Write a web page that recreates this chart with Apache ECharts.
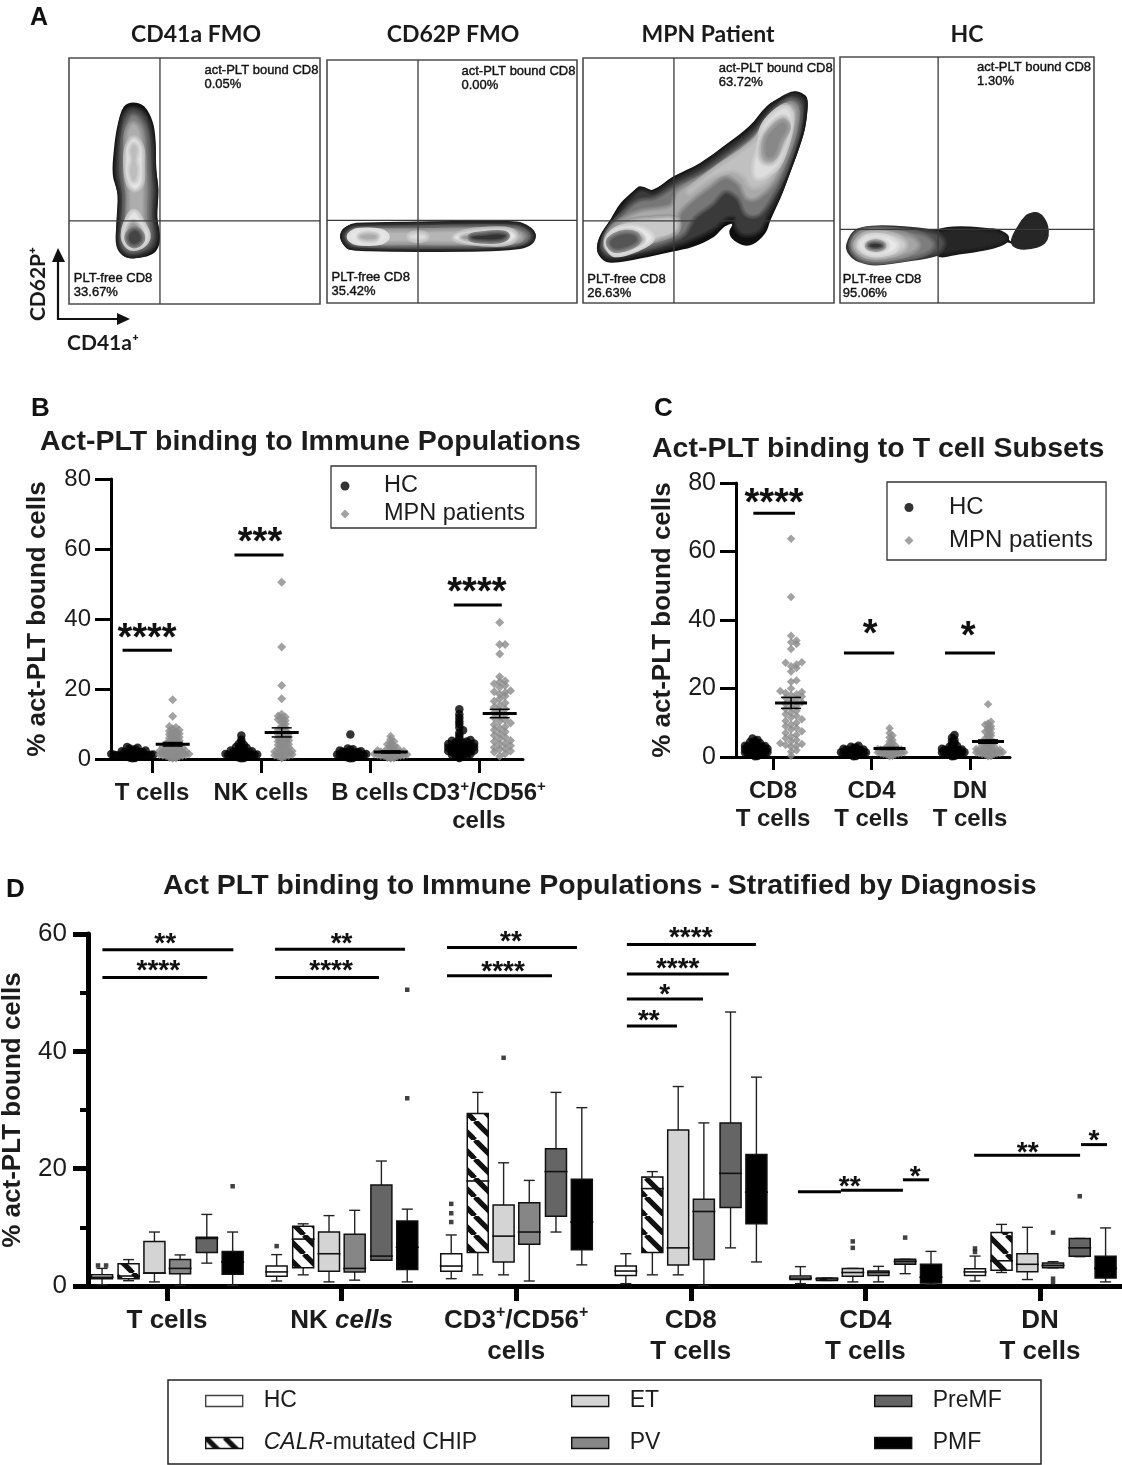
<!DOCTYPE html>
<html><head><meta charset="utf-8">
<style>html,body{margin:0;padding:0;background:#fff}#c{width:1122px;height:1465px;filter:blur(0.35px)}</style>
<script src="https://cdn.jsdelivr.net/npm/echarts@6/dist/echarts.min.js"></script>
</head><body><div id="c"></div>
<script>
/* ---------- Panel A: contour levels (scan units of each plot) ---------- */
const plotTitles = ['CD41a FMO','CD62P FMO','MPN Patient','HC'];
const upperTexts = ['act-PLT bound CD8\n0.05%','act-PLT bound CD8\n0.00%','act-PLT bound CD8\n63.72%','act-PLT bound CD8\n1.30%'];
const lowerTexts = ['PLT-free CD8\n33.67%','PLT-free CD8\n35.42%','PLT-free CD8\n26.63%','PLT-free CD8\n95.06%'];
const upperSpots = [[552,190],[1247,195],[423,187],[1157,182]];
const lowerSpots = [[200,815],[897,812],[50,818],[778,818]];
const xRanges = [[187,863],[885,1558],[38,750],[770,1487]];
const yRanges = [[175,912],[182,908],[177,908],[172,908]];
const gates = [[432,663],[1130,661],[296,663],[1047,688]];

const contoursA = [
 [[360,308],[390,320],[412,365],[420,420],[422,510],[428,570],[425,650],[432,720],[415,760],[360,775],[330,765],[315,730],[315,660],[318,585],[305,525],[308,450],[318,375],[335,320]],
 [[360,330],[385,345],[400,380],[408,440],[410,510],[415,570],[412,650],[418,715],[405,745],[360,762],[335,752],[325,725],[328,660],[330,585],[320,525],[322,450],[330,385],[340,345]],
 [[360,350],[378,365],[390,395],[395,450],[398,520],[400,575],[398,650],[403,710],[392,735],[360,748],[342,740],[335,715],[340,660],[342,585],[335,525],[335,450],[340,395],[348,365]],
 [[360,375],[375,395],[382,450],[385,520],[385,580],[385,660],[390,710],[380,728],[360,735],[348,728],[345,705],[350,660],[352,585],[345,525],[345,450],[347,400]],
 [[362,420],[378,445],[380,500],[378,550],[365,565],[352,550],[345,500],[348,445]],
 [[362,435],[370,450],[365,480],[370,510],[365,540],[358,540],[352,510],[358,480],[354,450]],
 [[362,640],[380,670],[395,705],[385,730],[360,740],[345,730],[338,705],[345,670]],
 [[362,670],[380,695],[382,720],[362,733],[348,722],[345,700],[350,680]],
 [[364,692],[378,705],[378,722],[362,732],[350,722],[350,705]]
];
const greysA = [17,74,128,173,230,189,230,153,68];

const contoursB = [
 [[920,708],[930,685],[960,672],[1130,668],[1300,665],[1400,668],[1435,685],[1447,708],[1435,730],[1395,745],[1300,752],[1130,752],[1000,750],[945,748],[928,730]],
 [[933,708],[942,692],[965,682],[1130,678],[1300,676],[1395,678],[1425,692],[1435,708],[1425,725],[1392,735],[1300,741],[1130,742],[1000,740],[950,736],[938,725]],
 [[945,708],[953,698],[970,692],[1130,689],[1300,686],[1390,688],[1412,697],[1422,708],[1412,720],[1388,727],[1300,731],[1130,732],[1000,730],[958,725],[950,718]],
 [[955,708],[965,700],[1000,698],[1130,698],[1300,695],[1385,697],[1400,705],[1405,710],[1400,716],[1385,720],[1300,723],[1130,722],[1000,722],[965,718]],
 [[1110,710],[1130,704],[1150,710],[1130,716]],
 [[950,710],[965,698],[1000,696],[1030,700],[1042,710],[1030,720],[1000,724],[965,722]],
 [[975,710],[990,704],[1010,705],[1018,710],[1010,716],[990,716]],
 [[1230,712],[1270,698],[1340,692],[1375,695],[1390,708],[1375,722],[1340,727],[1270,722]],
 [[1250,712],[1290,704],[1345,700],[1368,708],[1345,720],[1290,720]],
 [[1275,712],[1300,708],[1345,703],[1365,708],[1345,717],[1300,717]]
];
const greysB = [17,74,136,181,221,230,170,230,150,51];

const contoursC = [
 [[640,277],[670,290],[675,315],[668,385],[650,450],[625,520],[600,590],[570,660],[555,700],[520,733],[490,735],[460,715],[453,695],[462,672],[440,680],[410,710],[350,740],[290,755],[200,775],[120,788],[95,780],[78,750],[85,710],[115,660],[145,610],[185,570],[200,560],[235,570],[295,530],[370,490],[450,430],[510,380],[560,320],[600,295]],
 [[635,290],[660,303],[663,320],[655,385],[636,450],[612,520],[588,585],[560,640],[535,690],[495,700],[475,680],[470,650],[445,650],[410,680],[350,712],[290,735],[200,758],[120,772],[100,765],[90,745],[100,710],[128,665],[155,625],[190,585],[205,575],[238,585],[300,545],[375,505],[455,445],[520,392],[570,330],[605,305]],
 [[630,305],[650,320],[645,390],[625,460],[600,530],[570,590],[535,640],[505,640],[480,590],[440,570],[400,610],[350,650],[320,700],[280,720],[200,745],[130,760],[105,750],[100,730],[115,690],[150,650],[195,610],[245,600],[310,560],[385,520],[465,460],[525,410],[575,345],[605,318]],
 [[625,318],[640,335],[632,400],[610,470],[575,545],[530,590],[505,590],[485,550],[440,525],[395,555],[340,600],[305,640],[300,690],[250,712],[180,732],[125,748],[108,735],[115,700],[150,665],[200,640],[290,622],[310,580],[390,530],[470,470],[530,420],[580,350]],
 [[615,325],[628,345],[618,410],[595,480],[560,540],[525,560],[510,550],[500,530],[460,510],[400,530],[340,575],[420,510],[490,460],[535,420],[570,360],[595,335]],
 [[612,330],[625,350],[615,420],[590,490],[555,525],[530,530],[528,490],[542,440],[552,385],[580,348]],
 [[605,358],[620,375],[605,430],[575,485],[548,480],[545,430],[570,385]],
 [[605,370],[615,385],[595,425],[578,468],[560,470],[558,425],[575,395]],
 [[108,735],[125,700],[165,670],[230,660],[300,660],[300,690],[250,712],[180,732],[125,748]],
 [[110,730],[125,700],[160,685],[205,690],[230,715],[190,742],[130,758]],
 [[118,730],[130,708],[160,697],[190,702],[205,720],[175,738],[130,750]],
 [[115,728],[130,712],[160,703],[185,708],[190,722],[165,738],[130,745]]
];
const greysC = [15,58,119,169,192,222,170,136,200,232,153,85];

const contoursD = [
 [[795,730],[815,695],[860,682],[950,684],[1050,688],[1210,690],[1235,705],[1258,725],[1275,680],[1295,645],[1325,638],[1348,660],[1357,695],[1340,730],[1290,742],[1262,732],[1225,725],[1180,745],[1100,762],[1030,768],[950,780],[870,790],[820,780],[800,760]],
 [[1050,700],[1200,698],[1235,715],[1190,735],[1100,750],[1050,755]],
 [[1300,660],[1325,650],[1345,680],[1340,720],[1290,735],[1265,725],[1285,680]],
 [[800,735],[820,700],[860,690],[950,692],[1040,705],[1060,730],[1040,755],[950,772],[870,782],[825,772],[805,755]],
 [[806,735],[825,700],[870,692],[950,697],[1010,712],[1030,735],[1005,757],[940,772],[870,780],[825,768]],
 [[812,735],[830,705],[870,698],[930,703],[975,718],[988,737],[965,755],[915,768],[868,772],[832,762]],
 [[820,735],[838,710],[870,704],[915,708],[945,722],[952,737],[935,752],[900,762],[868,765],[838,757]],
 [[830,735],[845,716],[870,711],[900,715],[925,728],[928,738],[915,750],[888,757],[868,758],[845,752]],
 [[845,735],[858,724],[875,722],[892,728],[900,736],[892,745],[875,749],[858,746]],
 [[853,736],[866,731],[880,732],[888,737],[878,741],[862,741]]
];
const greysD = [20,38,38,80,125,165,205,232,190,51];

/* ---------- Panel B values ---------- */
const popLabels = ['T cells','NK cells','B cells','{a|CD3}{s|+}{a|/CD56}{s|+}\n{a|cells}'];
const tCellsHC = [0.2,0.3,0.4,0.5,0.5,0.6,0.7,0.7,0.8,0.8,0.9,0.9,1,1,1.1,1.1,1.2,1.2,1.3,1.4,1.5,1.5,1.6,1.7,1.8,1.9,2,2,2.2,2.4,2.6,2.8,3,3.2,3.4];
const tCellsMPN = [0.2,0.3,0.4,0.5,0.6,0.7,0.8,0.9,1,1.1,1.2,1.3,1.4,1.5,1.6,1.7,1.8,2,2,2.1,2.2,2.3,2.5,2.6,2.8,3,3,3.2,3.4,3.6,3.8,4,4.2,4.4,4.6,4.8,5,5.2,5.5,5.8,6,6.2,6.5,6.8,7,7.2,7.5,7.8,8,8.3,8.6,9,9.3,12.2,16.9];
const nkCellsHC = [0.2,0.3,0.4,0.5,0.6,0.7,0.8,0.8,0.9,1,1,1.1,1.2,1.2,1.3,1.4,1.5,1.6,1.7,1.8,1.9,2,2.1,2.2,2.4,2.6,2.8,3,3.2,3.4,3.7,4,4.3,4.8,5.5,6.7];
const nkCellsMPN = [0.3,0.5,0.7,0.8,1,1.1,1.3,1.5,1.6,1.8,2,2.1,2.3,2.5,2.7,3,3.2,3.5,3.8,4,4.2,4.5,4.8,5,5.3,5.5,5.8,6,6.3,6.5,6.8,7,7.3,7.5,8,8.3,8.6,9,9.5,10,10.5,11,11.3,11.7,12,12.3,12.8,17.2,21,32,50.5];
const bCellsHC = [0.2,0.3,0.4,0.5,0.6,0.7,0.8,0.8,0.9,1,1,1.1,1.2,1.3,1.4,1.5,1.6,1.7,1.8,1.9,2,2.1,2.2,2.4,2.6,2.8,3,7];
const bCellsMPN = [0.2,0.3,0.4,0.5,0.6,0.7,0.8,0.9,1,1,1.1,1.2,1.3,1.4,1.5,1.6,1.7,1.8,1.9,2,2.1,2.2,2.4,2.6,2.8,3,3.2,3.5,3.8,4.2,4.6,5,5.6,6.5];
const cd3CellsHC = [0.3,0.5,0.7,0.9,1,1.2,1.4,1.5,1.7,1.9,2,2.1,2.2,2.3,2.4,2.6,2.7,2.8,3,3.1,3.2,3.3,3.4,3.6,3.7,3.8,3.9,4,4.2,4.3,4.4,4.6,4.7,4.8,5,5.2,5.4,6,6.7,7.5,8.2,9,10,10.8,11.8,12.8,14.2];
const cd3CellsMPN = [0.8,1.5,2,2.3,2.8,3,3.3,3.8,4.2,4.5,5,5.3,5.8,6.3,6.8,7.2,7.8,8.3,8.8,9.2,9.8,10.3,10.8,11.2,11.8,12.2,12.8,13.3,13.8,14.3,14.8,15.3,16,16.5,17.2,18,18.5,19,19.2,19.5,20.5,21,21.5,22,22.3,23.5,30,32.7,32.7,39];
const popMeans = [4.2,7.6,2,13];
const popSems = [0.5,1.3,0.3,1.2];

/* ---------- Panel C values ---------- */
const subsetLabels = ['CD8\nT cells','CD4\nT cells','DN\nT cells'];
const cd8HC = [0.2,0.3,0.5,0.6,0.7,0.8,0.9,1,1.1,1.2,1.3,1.4,1.5,1.6,1.7,1.8,1.9,2,2.1,2.2,2.3,2.4,2.5,2.6,2.7,2.8,2.9,3,3.1,3.2,3.3,3.5,3.7,3.9,4.1,4.4,4.7,5,5.4];
const cd8MPN = [0.4,1.5,2,3,3.3,3.5,3.8,4,4.5,5,5.5,6,6.5,7,7.5,8,8.5,9,9.5,10,10.5,11,11.5,12,12.5,13,13.5,14,14.5,15,15.5,16,16.5,17,17.3,17.7,18,18.3,18.7,19,19.3,20,22,22.3,25,26,26.5,27,27.5,27.7,31.5,33,33.5,34,35.4,46.7,63.7];
const cd4HC = [0.2,0.3,0.5,0.6,0.7,0.8,0.9,1,1,1.1,1.2,1.3,1.4,1.5,1.6,1.7,1.8,1.9,2,2.1,2.2,2.4,2.6,2.8,3,3.3];
const cd4MPN = [0.2,0.3,0.5,0.6,0.7,0.8,0.9,1,1.1,1.2,1.3,1.4,1.5,1.6,1.7,1.8,1.9,2,2.1,2.2,2.3,2.5,2.7,3,3.3,3.6,4,4.5,5,5.7,6.3,7,8.4];
const dnHC = [0.2,0.3,0.5,0.6,0.7,0.8,0.9,1,1.1,1.2,1.3,1.4,1.5,1.6,1.7,1.8,1.9,2,2.1,2.2,2.4,2.6,2.8,3,3.3,3.6,4,4.5,5,5.6,6.4];
const dnMPN = [0.2,0.3,0.5,0.6,0.7,0.8,0.9,1,1.1,1.2,1.3,1.4,1.5,1.6,1.7,1.8,1.9,2,2.1,2.2,2.3,2.5,2.7,3,3.2,3.4,3.6,3.8,4,4.3,4.6,5,5.4,5.8,6.2,6.6,7,7.4,7.8,8.2,8.6,9,9.4,9.8,10.3,15.4];
const subsetMeans = [15.8,2.5,4.5];
const subsetSems = [1.6,0.3,0.5];

/* ---------- Panel D values: [low whisker, Q1, median, Q3, high whisker] per population ---------- */
const stratLabels = ['{a|T cells}','{a|NK }{i|cells}','{a|CD3}{s|+}{a|/CD56}{s|+}\n{a|cells}','{a|CD8}\n{a|T cells}','{a|CD4}\n{a|T cells}','{a|DN}\n{a|T cells}'];
const diagnoses = ['HC','CALR-mutated CHIP','ET','PV','PreMF','PMF'];
const hcBoxes = [[0.2,1.25,1.5,1.9,3],[0.85,1.65,2.4,3.4,5.35],[1.25,2.5,3.4,5.5,8.7],[0.4,1.8,2.55,3.4,5.5],[0.4,1.1,1.35,1.7,3.3],[0.85,1.8,2.4,2.95,5.1]];
const calrBoxes = [[0.9,1.25,1.7,3.8,4.5],[1.9,3.1,8,10.2,10.6],[1.9,5.7,17.9,29.4,33],[1.9,5.7,16.6,18.6,19.5],[0.95,0.95,1.2,1.35,1.35],[2.3,2.7,4.3,9.1,10.5]];
const etBoxes = [[0.7,2.2,2.2,7.6,9.2],[0.7,2.5,5.5,9.2,12],[1.9,4.1,8.5,13.8,21],[1.9,3.6,6.5,26.6,34],[0.7,1.65,2.3,3,3],[1.1,2.45,3.7,5.5,10]];
const pvBoxes = [[0.1,2.1,3,4.5,5.3],[1,2.4,3,8.8,12.9],[0.85,7.1,9.2,14.2,18],[0.1,4.5,12.7,14.8,27.8],[0.7,1.8,2.3,2.55,3.35],[3.1,3.1,3.5,3.9,4.15]];
const premfBoxes = [[3.9,5.7,8.1,8.3,12.2],[4.4,4.4,5.1,17.2,21.3],[9.2,11.9,19.5,23.4,33],[6.5,13.4,19.2,27.8,46.7],[2.1,3.7,4.2,4.55,4.55],[5,5.05,6.5,8.1,8.1]];
const pmfBoxes = [[0.1,2,4.1,5.9,9.2],[0.7,2.8,6.6,11.1,13.1],[3.6,6.2,10.9,18.2,30.4],[4.1,10.6,16,22.4,35.6],[0.3,0.5,1.5,3.7,5.9],[0.7,1.35,3,5.05,9.9]];
const hcOutliers = [[0,3.5],[0,3.5],[1,6.8],[2,14],[2,12.4],[2,10.9],[5,6.4],[5,5.8]];
const etOutliers = [[2,38.9],[4,7.6],[4,6.5]];
const pvOutliers = [[5,9.1],[5,1.25],[5,0.5]];
const premfOutliers = [[4,8.25],[5,15.3]];
const pmfOutliers = [[0,17],[1,32],[1,50.5]];

/* significance: [x from, x to, bar value, star x, star anchor value] */
const sigB = [[-0.27,0.183,31.1,-0.046,34.2],[0.757,1.207,58.3,0.991,61.5],[2.769,3.21,44,2.981,47.4]];
const starsB = ['****','***','****'];
const sigC = [[-0.2,0.223,71.2,0.01,73.7],[0.72,1.23,30.4,0.985,35.5],[1.746,2.254,30.4,1.98,34.9]];
const starsC = ['****','*','*'];
const sigD = [
 [-0.37,0.38,57.3,-0.01,58.3],[-0.37,0.23,52.6,-0.05,53.7],
 [0.619,1.363,57.4,1,58.3],[0.619,1.214,52.6,0.94,53.7],
 [1.604,2.348,57.7,1.97,58.6],[1.604,2.205,52.9,1.925,53.5],
 [2.634,3.373,58.2,3,59.2],[2.634,3.218,53.2,2.925,54],[2.634,3.07,48.9,2.85,49.6],[2.634,2.921,44.3,2.76,45.1],
 [3.614,3.86,16.05,3.91,16.8],[3.86,4.215,16.3,3.91,16.8],[4.215,4.365,18.1,4.285,18.6],
 [4.623,5.23,22.3,4.93,22.7],[5.235,5.384,24.1,5.31,24.7]
];
const starsD = ['**','****','**','****','**','****','****','****','*','**','','**','*','**','*'];

/* ---------- rendering ---------- */
const ARIAL = '"Liberation Sans", Arial, sans-serif';
const CALIBRI = 'Lato, "Open Sans", sans-serif';
const INK = '#1c1c1c';
const MPN_GREY = '#8b8b8b';

function grey(g){ g=Math.round(g); return 'rgb('+g+','+g+','+g+')'; }

function contourSeries(idx, contours, greys){
  return {type:'custom', xAxisIndex:idx, yAxisIndex:idx, coordinateSystem:'cartesian2d', silent:true, z:2,
    data: contours.map((c,i)=>[c[0][0],c[0][1],i]),
    encode:{x:0,y:1},
    renderItem(params, api){
      const i = params.dataIndex;
      const pts = contours[i].map(p=>api.coord(p));
      const kids = [];
      if(i>0){
        const a = greys[i-1], b = greys[i];
        [[9,0.25],[6,0.5],[3,0.75]].forEach(h=>{
          kids.push({type:'polygon', shape:{points:pts, smooth:0.35},
            style:{fill:null, stroke:grey(a+(b-a)*h[1]), lineWidth:h[0], lineJoin:'round'}});
        });
      }
      kids.push({type:'polygon', shape:{points:pts, smooth:0.35}, style:{fill:grey(greys[i])}});
      return {type:'group', children:kids};
    }};
}
function gateSeries(idx){
  const xr = xRanges[idx], yr = yRanges[idx];
  return {type:'custom', xAxisIndex:idx, yAxisIndex:idx, silent:true, z:3, data:[gates[idx]], encode:{x:0,y:1},
    renderItem(params, api){
      const g = [api.value(0), api.value(1)];
      const a = api.coord([g[0],yr[0]]), b = api.coord([g[0],yr[1]]), c = api.coord([xr[0],g[1]]), d = api.coord([xr[1],g[1]]);
      const st = {stroke:'#3a3a3a', lineWidth:1.3, fill:null};
      return {type:'group', children:[
        {type:'line', shape:{x1:a[0],y1:a[1],x2:b[0],y2:b[1]}, style:st},
        {type:'line', shape:{x1:c[0],y1:c[1],x2:d[0],y2:d[1]}, style:st}]};
    }};
}
function gateTextSeries(idx){
  const texts = [upperTexts[idx], lowerTexts[idx]];
  return {type:'custom', xAxisIndex:idx, yAxisIndex:idx, silent:true, z:4, data:[upperSpots[idx], lowerSpots[idx]], encode:{x:0,y:1},
    renderItem(params, api){
      const p = api.coord([api.value(0), api.value(1)]);
      return {type:'text', x:p[0], y:p[1], style:{text:texts[params.dataIndex], font:'13px '+ARIAL, fill:'#111', stroke:'#111', lineWidth:0.4, lineHeight:14, textAlign:'left', textVerticalAlign:'top'}};
    }};
}
function swarm(values, center, bin, step){
  const counts = {};
  return values.map(v=>{
    const b = Math.round(v/bin);
    const k = counts[b] = (counts[b]||0)+1;
    return [center + (k%2?-1:1)*Math.floor(k/2)*step, v];
  });
}
function dotSeries(name, idx, symbol, size, color, pts){
  return {name, type:'scatter', xAxisIndex:idx, yAxisIndex:idx, symbol, symbolSize:size, clip:false, z:3, silent:true,
    itemStyle:{color}, data:pts};
}
function meanSeries(idx, rows, halfW){
  return {type:'custom', xAxisIndex:idx, yAxisIndex:idx, silent:true, z:5, data:rows, encode:{x:0,y:1},
    renderItem(params, api){
      const x = api.value(0), m = api.value(1), s = api.value(2);
      const c = api.coord([x,m]), hi = api.coord([x,m+s]), lo = api.coord([x,m-s]);
      const thin = {stroke:'#000', lineWidth:1.5, fill:null};
      return {type:'group', children:[
        {type:'line', shape:{x1:c[0],y1:hi[1],x2:c[0],y2:lo[1]}, style:thin},
        {type:'line', shape:{x1:c[0]-10,y1:hi[1],x2:c[0]+10,y2:hi[1]}, style:thin},
        {type:'line', shape:{x1:c[0]-10,y1:lo[1],x2:c[0]+10,y2:lo[1]}, style:thin},
        {type:'line', shape:{x1:c[0]-halfW,y1:c[1],x2:c[0]+halfW,y2:c[1]}, style:{stroke:'#000', lineWidth:3, fill:null}}
      ]};
    }};
}
function sigSeries(idx, rows, stars, font, lw){
  return {type:'custom', xAxisIndex:idx, yAxisIndex:idx, silent:true, z:6, data:rows, encode:{x:[0,1,3],y:[2,4]},
    renderItem(params, api){
      const a = api.coord([api.value(0),api.value(2)]), b = api.coord([api.value(1),api.value(2)]);
      const t = api.coord([api.value(3),api.value(4)]);
      return {type:'group', children:[
        {type:'line', shape:{x1:a[0],y1:a[1],x2:b[0],y2:b[1]}, style:{stroke:'#000', lineWidth:lw, fill:null}},
        {type:'text', x:t[0], y:t[1], style:{text:stars[params.dataIndex], font, fill:'#111', textAlign:'center', textVerticalAlign:'middle'}}
      ]};
    }};
}
function hatchPattern(){
  const n = 19, cv = document.createElement('canvas');
  cv.width = n; cv.height = n;
  const g = cv.getContext('2d');
  g.fillStyle = '#fff'; g.fillRect(0,0,n,n);
  g.strokeStyle = '#111'; g.lineWidth = 5.2;
  [[-n,0],[0,0],[n,0]].forEach(o=>{ g.beginPath(); g.moveTo(o[0],0); g.lineTo(o[0]+n,n); g.stroke(); });
  return {image:cv, repeat:'repeat'};
}
const hatch = hatchPattern();
const boxFills = ['#ffffff', hatch, '#d4d4d4', '#868686', '#656565', '#000000'];
const allBoxes = [hcBoxes, calrBoxes, etBoxes, pvBoxes, premfBoxes, pmfBoxes];
const boxOffsets = [-0.372,-0.22,-0.072,0.075,0.228,0.376];

function boxSeries(i){
  const fill = boxFills[i];
  return {name:diagnoses[i], type:'custom', xAxisIndex:6, yAxisIndex:6, silent:true, z:4,
    itemStyle:{color:i===1?'#777':fill},
    data: allBoxes[i].map((b,g)=>[g+boxOffsets[i]].concat(b)),
    encode:{x:0,y:[1,2,3,4,5]},
    renderItem(params, api){
      const x = api.value(0);
      const P = k=>api.coord([x,api.value(k)]);
      const lo=P(1), q1=P(2), med=P(3), q3=P(4), hi=P(5);
      const cx = lo[0], hw = 10.5, cap = 5.5;
      const thin = {stroke:'#222', lineWidth:1.4, fill:null};
      return {type:'group', children:[
        {type:'line', shape:{x1:cx,y1:hi[1],x2:cx,y2:q3[1]}, style:thin},
        {type:'line', shape:{x1:cx,y1:q1[1],x2:cx,y2:lo[1]}, style:thin},
        {type:'line', shape:{x1:cx-cap,y1:hi[1],x2:cx+cap,y2:hi[1]}, style:thin},
        {type:'line', shape:{x1:cx-cap,y1:lo[1],x2:cx+cap,y2:lo[1]}, style:thin},
        {type:'rect', shape:{x:cx-hw,y:q3[1],width:hw*2,height:q1[1]-q3[1]}, style:{fill, stroke:'#111', lineWidth:1.5}},
        {type:'line', shape:{x1:cx-hw-1,y1:med[1],x2:cx+hw+1,y2:med[1]}, style:{stroke:i===5?'#000':'#111', lineWidth:1.6, fill:null}}
      ]};
    }};
}
const outlierPoints = [[0,hcOutliers],[2,etOutliers],[3,pvOutliers],[4,premfOutliers],[5,pmfOutliers]].flatMap(r=>{
  const seen = {};
  return r[1].map(o=>{
    const key = o.join('_'); const k = seen[key] = (seen[key]||0)+1;
    const dup = r[1].filter(q=>q.join('_')===key).length>1;
    return [o[0]+boxOffsets[r[0]]+(dup?(k===1?-0.023:0.023):0), o[1]];
  });
});

/* ---------- layout ---------- */
const aGrids = [
 {left:69,top:58,width:251,height:246},{left:327,top:60,width:250,height:243},
 {left:583,top:58,width:251,height:245},{left:840,top:57,width:254,height:246}
].map(g=>Object.assign(g,{show:true,borderColor:'#4d4d4d',borderWidth:1.6,backgroundColor:'#fff'}));
const grids = aGrids.concat([
 {left:111,top:479,width:412,height:280},
 {left:736,top:483,width:274,height:274},
 {left:88,top:934,width:1034,height:352}
]).map(g=>Object.assign(g,{outerBoundsMode:'none',containLabel:false}));
function sciY(idx, max, interval, fs, gap, lw, tickLen, nameFs, labelMargin){
  return {gridIndex:idx, type:'value', min:0, max, interval,
    name:'% act-PLT bound cells', nameLocation:'middle', nameGap:gap,
    nameTextStyle:{fontFamily:ARIAL, fontWeight:'bold', fontSize:nameFs, color:INK},
    axisLine:{show:true, onZero:false, lineStyle:{color:'#000',width:lw}},
    axisTick:{show:true, length:tickLen, lineStyle:{color:'#000',width:lw}},
    axisLabel:{fontFamily:ARIAL, fontSize:fs, color:INK, margin:labelMargin},
    splitLine:{show:false}};
}
function sciX(idx, min, max, labels, fs, lineH, lw, tickLen, margin){
  const ticks = labels.map((_,i)=>i);
  return {gridIndex:idx, type:'value', min, max,
    axisLine:{show:true, lineStyle:{color:'#000',width:lw}},
    axisTick:{show:true, length:tickLen, customValues:ticks, lineStyle:{color:'#000',width:lw}},
    axisLabel:{customValues:ticks, formatter:v=>labels[Math.round(v)], margin, hideOverlap:false,
      fontFamily:ARIAL, fontWeight:'bold', fontSize:fs, lineHeight:lineH, color:INK,
      rich:{a:{fontFamily:ARIAL,fontWeight:'bold',fontSize:fs,lineHeight:lineH,color:INK},
            i:{fontFamily:ARIAL,fontWeight:'bold',fontStyle:'italic',fontSize:fs,lineHeight:lineH,color:INK},
            s:{fontFamily:ARIAL,fontWeight:'bold',fontSize:Math.round(fs*0.62),lineHeight:lineH,verticalAlign:'top',color:INK}}},
    splitLine:{show:false}};
}
const xAxes = xRanges.map((r,i)=>({gridIndex:i,type:'value',min:r[0],max:r[1],show:false}))
  .concat([
    sciX(4,-0.376,3.404,popLabels,24,28,3,14,20),
    sciX(5,-0.376,2.406,subsetLabels,24,28,3,13,20),
    sciX(6,-0.4525,5.47,stratLabels,26,31,5,15,19)
  ]);
const yD = sciY(6,60,20,26,62,5,15,26,21);
yD.minorTick = {show:true, splitNumber:2, length:8, lineStyle:{color:'#000',width:4}};
const yAxes = yRanges.map((r,i)=>({gridIndex:i,type:'value',min:r[0],max:r[1],inverse:true,show:false}))
  .concat([ sciY(4,80,20,24,60,3,16,26,20), sciY(5,80,20,25,60,3,16,26,20), yD ]);

/* ---------- series ---------- */
const step = 0.022;
const series = [];
[[contoursA,greysA],[contoursB,greysB],[contoursC,greysC],[contoursD,greysD]].forEach((c,i)=>{
  series.push(contourSeries(i,c[0],c[1]), gateSeries(i), gateTextSeries(i));
});
const popHC = [tCellsHC,nkCellsHC,bCellsHC,cd3CellsHC];
const popMPN = [tCellsMPN,nkCellsMPN,bCellsMPN,cd3CellsMPN];
const popStep = [0.03,0.032,0.03,0.05];
series.push(dotSeries('HC',4,'circle',8.5,'#000',popHC.flatMap((v,g)=>swarm(v,g-0.18,1,g===3?0.034:step*1.1))));
series.push(dotSeries('MPN patients',4,'diamond',9,MPN_GREY,popMPN.flatMap((v,g)=>swarm(v,g+0.19,g===3?1.6:1,popStep[g]))));
series.push(meanSeries(4,popMeans.map((m,i)=>[i+0.19,m,popSems[i]]),17));
series.push(sigSeries(4,sigB,starsB,'bold 38px '+ARIAL,3));
const subHC = [cd8HC,cd4HC,dnHC];
const subMPN = [cd8MPN,cd4MPN,dnMPN];
series.push(dotSeries('HC',5,'circle',8.5,'#000',subHC.flatMap((v,g)=>swarm(v,g-0.183,1,step*1.15))));
series.push(dotSeries('MPN patients',5,'diamond',8.5,MPN_GREY,subMPN.flatMap((v,g)=>swarm(v,g+0.183,g===0?1.7:1,g===0?0.055:0.03))));
series.push(meanSeries(5,subsetMeans.map((m,i)=>[i+0.183,m,subsetSems[i]]),16));
series.push(sigSeries(5,sigC,starsC,'bold 38px '+ARIAL,3));
diagnoses.forEach((_,i)=>series.push(boxSeries(i)));
series.push({name:'Outliers',type:'scatter',xAxisIndex:6,yAxisIndex:6,symbol:'rect',symbolSize:4.5,clip:false,silent:true,z:5,itemStyle:{color:'#111'},data:outlierPoints});
series.push(sigSeries(6,sigD,starsD,'bold 28px '+ARIAL,3));

/* ---------- titles ---------- */
const title = [
 {text:'A',left:25,top:1,textStyle:{fontFamily:ARIAL,fontWeight:'bold',fontSize:25,color:'#111'}},
 {text:'B',left:26,top:391,textStyle:{fontFamily:ARIAL,fontWeight:'bold',fontSize:26,color:'#111'}},
 {text:'C',left:649,top:391,textStyle:{fontFamily:ARIAL,fontWeight:'bold',fontSize:26,color:'#111'}},
 {text:'D',left:1,top:872,textStyle:{fontFamily:ARIAL,fontWeight:'bold',fontSize:26,color:'#111'}},
 {text:'Act-PLT binding to Immune Populations',left:35,top:423,textStyle:{fontFamily:ARIAL,fontWeight:'bold',fontSize:28.5,color:INK}},
 {text:'Act-PLT binding to T cell Subsets',left:647,top:430,textStyle:{fontFamily:ARIAL,fontWeight:'bold',fontSize:28.5,color:INK}},
 {text:'Act PLT binding to Immune Populations - Stratified by Diagnosis',left:158,top:867,textStyle:{fontFamily:ARIAL,fontWeight:'bold',fontSize:28.5,color:INK}}
].concat(plotTitles.map((t,i)=>({text:t,left:[191,448,703,962][i],top:18,textAlign:'center',
  textStyle:{fontFamily:CALIBRI,fontWeight:'bold',fontSize:23,color:'#1a1a1a'}})));

/* ---------- legends ---------- */
function dotLegend(left,top,lineH,fs,padL,padR,textPad,padT,padB){
  return {left,top,orient:'vertical',selectedMode:false,itemWidth:9,itemHeight:9,itemGap:0,
    padding:[padT,padR,padB,padL],borderColor:'#333',borderWidth:1.3,backgroundColor:'#fff',
    textStyle:{fontFamily:ARIAL,fontSize:fs,color:INK,lineHeight:lineH,padding:[0,0,0,textPad]},
    data:[{name:'HC',icon:'circle',itemStyle:{color:'#000'}},{name:'MPN patients',icon:'diamond',itemStyle:{color:MPN_GREY}}]};
}
function boxLegend(left,names,idx){
  return {left,top:1380,orient:'vertical',selectedMode:false,itemWidth:37,itemHeight:11,itemGap:0,padding:0,
    formatter:n=>n==='CALR-mutated CHIP'?'{it|CALR}{n|-mutated CHIP}':'{n|'+n+'}',
    textStyle:{fontFamily:ARIAL,fontSize:23,color:INK,lineHeight:42,padding:[0,0,0,16],
      rich:{it:{fontFamily:ARIAL,fontStyle:'italic',fontSize:23,color:INK,lineHeight:42},n:{fontFamily:ARIAL,fontSize:23,color:INK,lineHeight:42}}},
    data:names.map((n,k)=>({name:n,icon:'rect',itemStyle:{color:boxFills[idx[k]],borderColor:'#111',borderWidth:1.4}}))};
}
const legend = [
  dotLegend(331,466,28,23.5,9.5,11,29.5,6,0),
  dotLegend(887,482,33,24,17.5,13,30.5,9,3),
  boxLegend(205,['HC','CALR-mutated CHIP'],[0,1]),
  boxLegend(571,['ET','PV'],[2,3]),
  boxLegend(874,['PreMF','PMF'],[4,5])
];

/* ---------- axis captions of panel A and frame of legend D ---------- */
const graphic = [
 {type:'polyline',silent:true,shape:{points:[[58,260],[58,319],[118,319]]},style:{stroke:'#111',lineWidth:2.2,fill:null}},
 {type:'polygon',silent:true,shape:{points:[[52,262],[58,248],[65,262]]},style:{fill:'#111'}},
 {type:'polygon',silent:true,shape:{points:[[117,313],[130,319],[117,325]]},style:{fill:'#111'}},
 {type:'text',silent:true,x:38,y:284,rotation:Math.PI/2,style:{text:'CD62P⁺',font:'bold 21px '+CALIBRI,fill:'#1a1a1a',textAlign:'center',textVerticalAlign:'middle'}},
 {type:'text',silent:true,x:103,y:343,style:{text:'CD41a⁺',font:'bold 21px '+CALIBRI,fill:'#1a1a1a',textAlign:'center',textVerticalAlign:'middle'}},
 {type:'rect',silent:true,z:-1,shape:{x:168,y:1380,width:873,height:84},style:{fill:'#fff',stroke:'#222',lineWidth:1.5}}
];

const chart = echarts.init(document.getElementById('c'),null,{renderer:'canvas',width:1122,height:1465});
chart.setOption({animation:false,backgroundColor:'#fff',title,legend,grid:grids,xAxis:xAxes,yAxis:yAxes,series,graphic,tooltip:{show:false}});
</script>
</body></html>
